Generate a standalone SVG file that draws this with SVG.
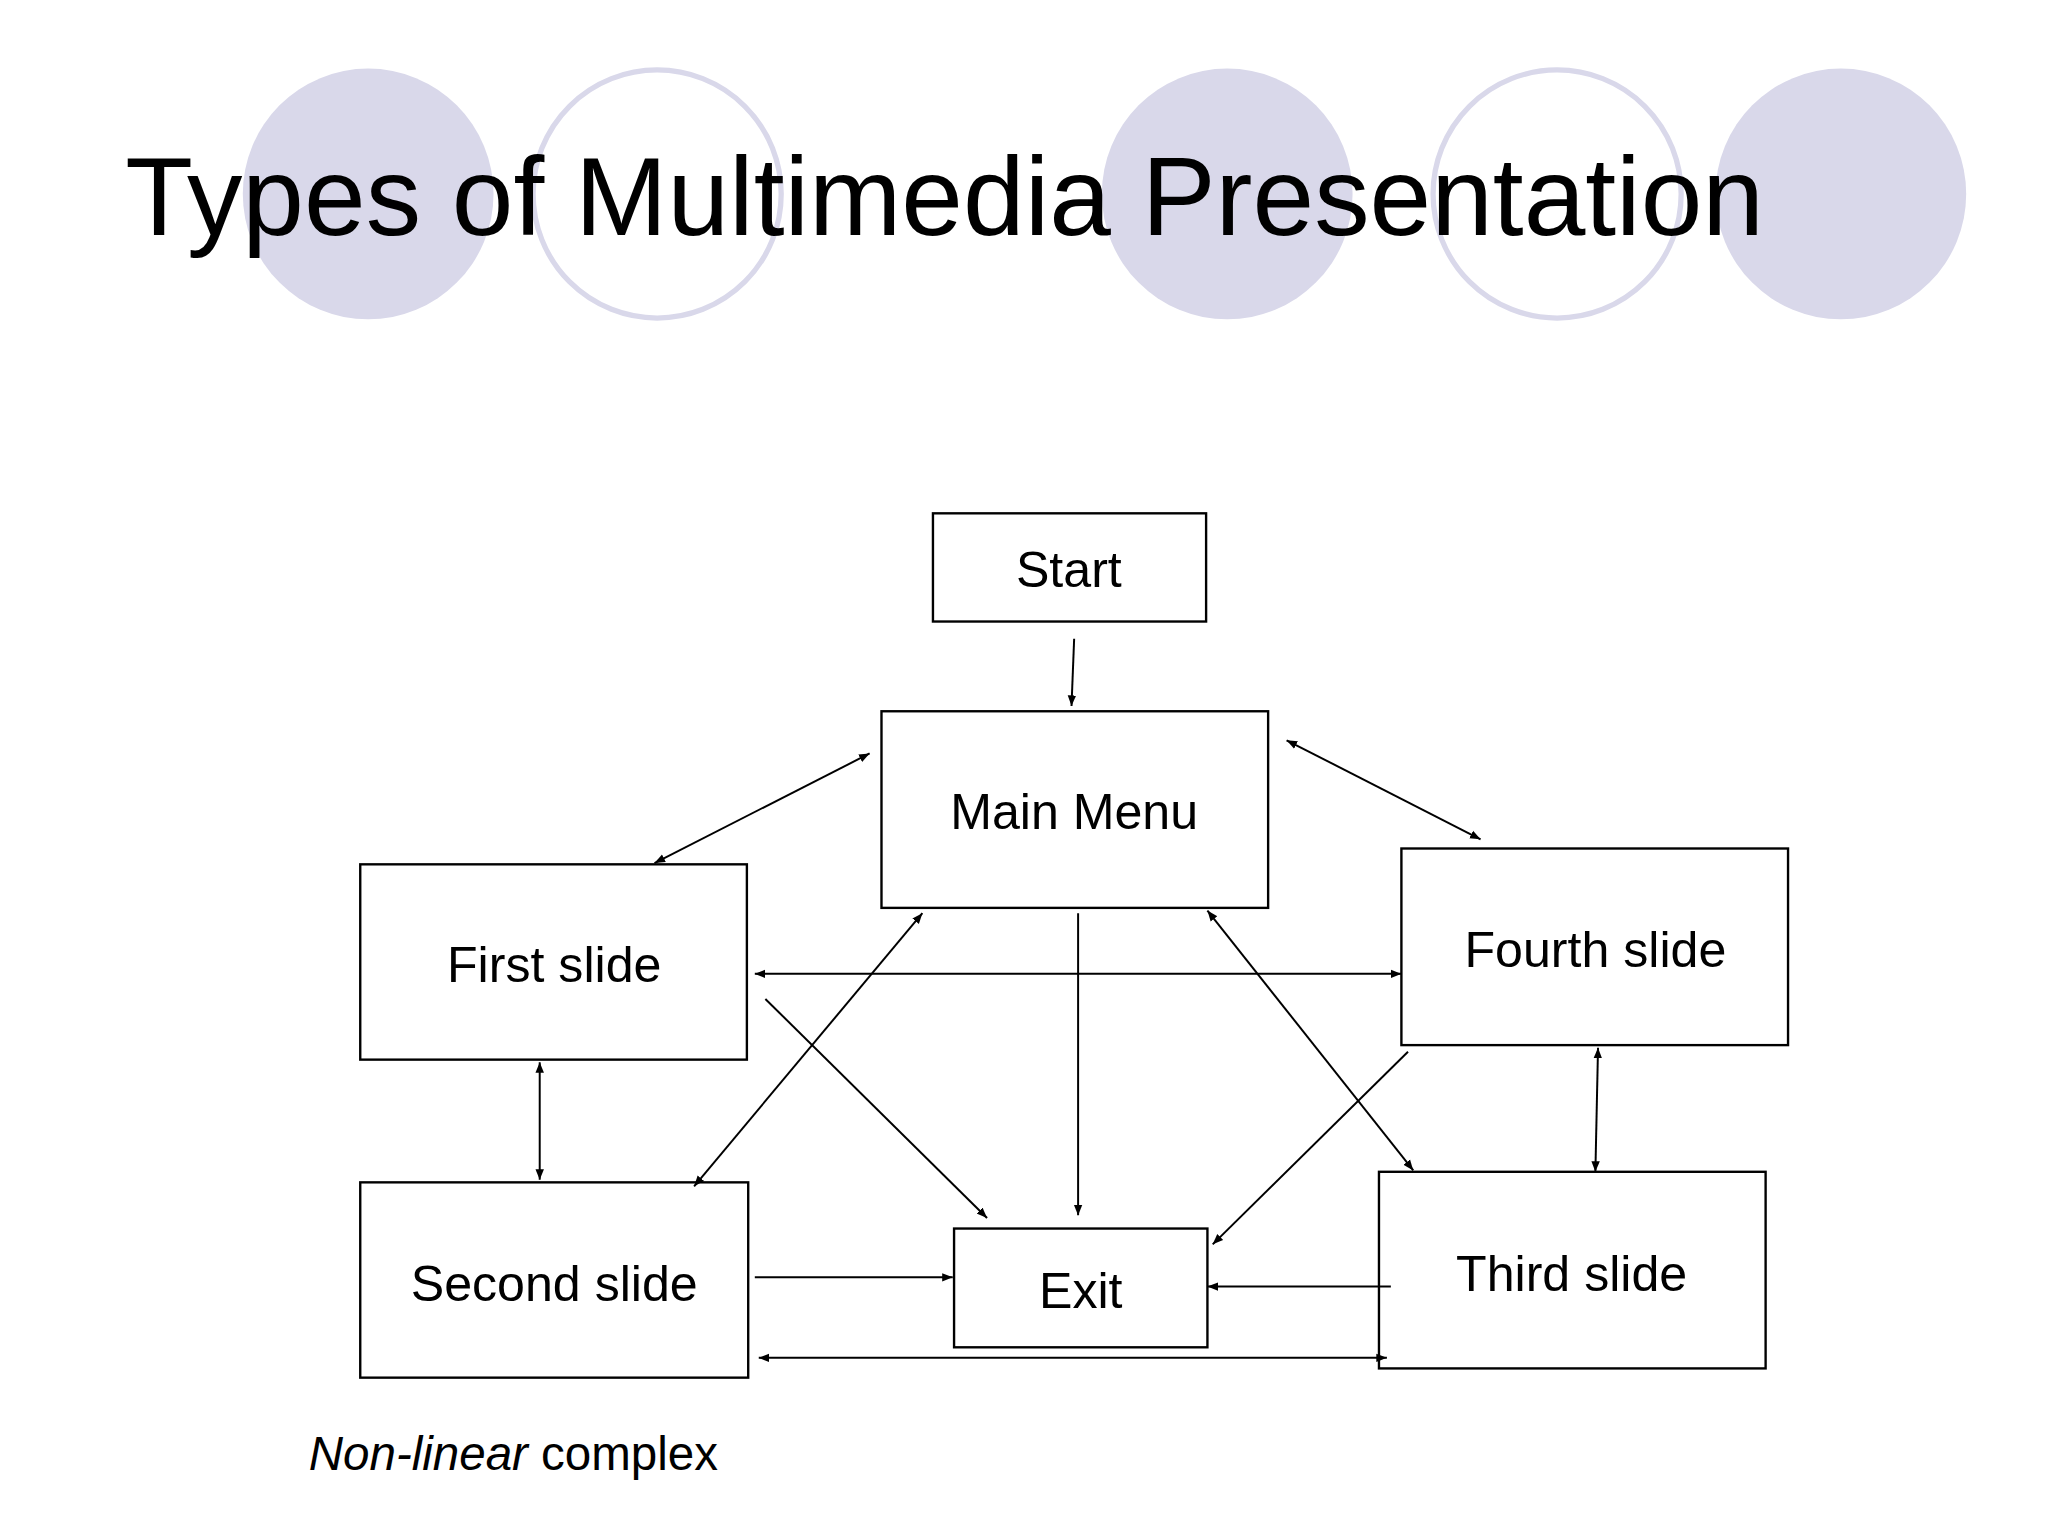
<svg xmlns="http://www.w3.org/2000/svg" width="2048" height="1536" viewBox="0 0 2048 1536">
<style>
.b{fill:#fff;stroke:#000;stroke-width:1.8}
.t{font-family:"Liberation Sans",Arial,sans-serif;font-size:38px;text-anchor:middle;fill:#000}
.c line{stroke:#000;stroke-width:1.5}
.cf{fill:#d9d8ea}
.co{fill:none;stroke:#d9d8ea;stroke-width:4}
</style>
<defs>
<marker id="a" viewBox="0 0 10 10" refX="10" refY="5" markerWidth="8" markerHeight="8" orient="auto-start-reverse" markerUnits="userSpaceOnUse"><path d="M0,1 L10,5 L0,9 z" fill="#000"/></marker>
</defs>
<rect width="2048" height="1536" fill="#fff"/>
<g transform="scale(1.31959)">
<g id="decor">
<circle class="cf" cx="279" cy="147" r="95"/>
<circle class="co" cx="498" cy="147" r="94"/>
<circle class="cf" cx="930" cy="147" r="95"/>
<circle class="co" cx="1180" cy="147" r="94"/>
<circle class="cf" cx="1395" cy="147" r="95"/>
</g>
<text x="95" y="178" font-family="Liberation Sans,Arial,sans-serif" font-size="84" fill="#000">Types of Multimedia Presentation</text>
<g id="start"><rect class="b" x="707" y="389" width="207" height="82"/><text class="t" x="810" y="445">Start</text></g>
<g id="main"><rect class="b" x="668" y="539" width="293" height="149"/><text class="t" x="814" y="628">Main Menu</text></g>
<g id="first"><rect class="b" x="273" y="655" width="293" height="148"/><text class="t" x="420" y="744">First slide</text></g>
<g id="fourth"><rect class="b" x="1062" y="643" width="293" height="149"/><text class="t" x="1209" y="733">Fourth slide</text></g>
<g id="second"><rect class="b" x="273" y="896" width="294" height="148"/><text class="t" x="420" y="986">Second slide</text></g>
<g id="exit"><rect class="b" x="723" y="931" width="192" height="90"/><text class="t" x="819" y="991">Exit</text></g>
<g id="third"><rect class="b" x="1045" y="888" width="293" height="149"/><text class="t" x="1191" y="978">Third slide</text></g>
<g class="c" id="connectors">
<line x1="814" y1="484" x2="812" y2="535" marker-end="url(#a)"/>
<line x1="659" y1="571" x2="496" y2="654" marker-start="url(#a)" marker-end="url(#a)"/>
<line x1="975" y1="561" x2="1122" y2="636" marker-start="url(#a)" marker-end="url(#a)"/>
<line x1="572" y1="738" x2="1062" y2="738" marker-start="url(#a)" marker-end="url(#a)"/>
<line x1="580" y1="757" x2="748" y2="923" marker-end="url(#a)"/>
<line x1="817" y1="692" x2="817" y2="921" marker-end="url(#a)"/>
<line x1="699" y1="692" x2="526" y2="899" marker-start="url(#a)" marker-end="url(#a)"/>
<line x1="915" y1="690" x2="1071" y2="887" marker-start="url(#a)" marker-end="url(#a)"/>
<line x1="1067" y1="797" x2="919" y2="943" marker-end="url(#a)"/>
<line x1="1211" y1="794" x2="1209" y2="888" marker-start="url(#a)" marker-end="url(#a)"/>
<line x1="409" y1="805" x2="409" y2="894" marker-start="url(#a)" marker-end="url(#a)"/>
<line x1="572" y1="968" x2="722" y2="968" marker-end="url(#a)"/>
<line x1="1054" y1="975" x2="915" y2="975" marker-end="url(#a)"/>
<line x1="575" y1="1029" x2="1051" y2="1029" marker-start="url(#a)" marker-end="url(#a)"/>
</g>
<text x="234" y="1114" font-family="Liberation Sans,Arial,sans-serif" font-size="36" fill="#000"><tspan font-style="italic">Non-linear</tspan> complex</text>
</g>
</svg>
